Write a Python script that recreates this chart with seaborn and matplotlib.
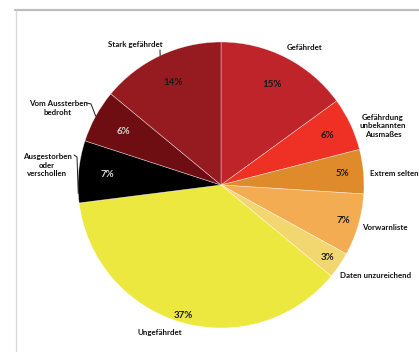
import numpy as np
import matplotlib
matplotlib.use("Agg")
import matplotlib.pyplot as plt
import seaborn as sns
from matplotlib.lines import Line2D

sns.set_theme(style="white")
plt.rcParams['font.family'] = ['Lato', 'DejaVu Sans']

categories = ["Gefährdet", "Gefährdung\nunbekannten\nAusmaßes", "Extrem selten",
              "Vorwarnliste", "Daten unzureichend", "Ungefährdet",
              "Ausgestorben\noder\nverschollen", "Vom Aussterben\nbedroht",
              "Stark gefährdet"]
values = [15, 6, 5, 7, 3, 37, 7, 6, 14]
pct_labels = ["15%", "6%", "5%", "7%", "3%", "37%", "7%", "6%", "14%"]
colors = ["#BE2429", "#EE3124", "#E08B2B", "#F4AC52", "#F2D770", "#ECE83F",
          "#000000", "#6E0D12", "#951B20"]
pct_colors = ["#1a1a1a"] * 6 + ["#D9D9D9", "#D9D9D9", "#1a1a1a"]

W, H = 419, 352
fig = plt.figure(figsize=(W / 100, H / 100), dpi=100)
fig.patch.set_facecolor("white")
cx, cy, r = 221, 185, 143
ax = fig.add_axes([(cx - r) / W, (H - cy - r) / H, 2 * r / W, 2 * r / H])

wedges, _ = ax.pie(values, colors=colors, startangle=90, counterclock=False,
                   radius=1, wedgeprops=dict(edgecolor=(1, 1, 1, 0.5), linewidth=0.5))
ax.set_xlim(-1, 1)
ax.set_ylim(-1, 1)
ax.set_aspect("equal")
ax.axis("off")

def px(x, y):
    return ((x - cx) / r, (cy - y) / r)

# percentage label radial distances (style)
pct_dist = [0.79, 0.82, 0.85, 0.89, 0.90, 0.95, 0.80, 0.78, 0.79]
for w, lab, d, c in zip(wedges, pct_labels, pct_dist, pct_colors):
    ang = np.deg2rad((w.theta1 + w.theta2) / 2)
    ax.text(d * np.cos(ang), d * np.sin(ang), lab, ha="center", va="center",
            fontsize=7, fontweight="bold", color=c)

# category label positions (pixel coords of text anchor) and alignment
label_pos = [(305, 48, "center"), (383, 126, "center"), (370, 173, "left"),
             (362, 228, "left"), (340, 276, "left"), (160, 333, "center"),
             (47, 165, "center"), (58, 108, "center"), (135, 45, "center")]
for w, lab, (lx, ly, ha) in zip(wedges, categories, label_pos):
    x, y = px(lx, ly)
    ax.text(x, y, lab, ha=ha, va="center", fontsize=5.7, fontweight="bold",
            color="#111111", linespacing=1.3, clip_on=False)

def edge(w, frac=0.5):
    a = np.deg2rad(w.theta1 + (w.theta2 - w.theta1) * frac)
    return np.cos(a), np.sin(a)

lc = "#1a1a1a"
# Stark gefährdet leader
ex, ey = edge(wedges[8])
x0, y0 = px(160, 50)
ax.plot([x0, ex], [y0, ey], color=lc, lw=0.7, clip_on=False)
# Vom Aussterben leader
ex, ey = edge(wedges[7])
xa, ya = px(87, 103)
xb, yb = px(91, 104)
ax.plot([xa, xb, ex], [ya, yb, ey], color=lc, lw=0.7, clip_on=False)
# Ausgestorben leader
ex, ey = edge(wedges[6], 0.85)
xa, ya = px(74, 155)
xb, yb = px(77, 157)
ax.plot([xa, xb, ex], [ya, yb, ey], color=lc, lw=0.7, clip_on=False)

# frame lines
fig.add_artist(Line2D([15 / W, 1], [1 - 9.8 / H] * 2, color="#BDBDBD", lw=1.6,
                      transform=fig.transFigure))
fig.add_artist(Line2D([15.5 / W] * 2, [0, 1 - 9.8 / H], color="#D6D6D6", lw=0.9,
                      transform=fig.transFigure))

fig.savefig("out.png", dpi=100, facecolor="white")
